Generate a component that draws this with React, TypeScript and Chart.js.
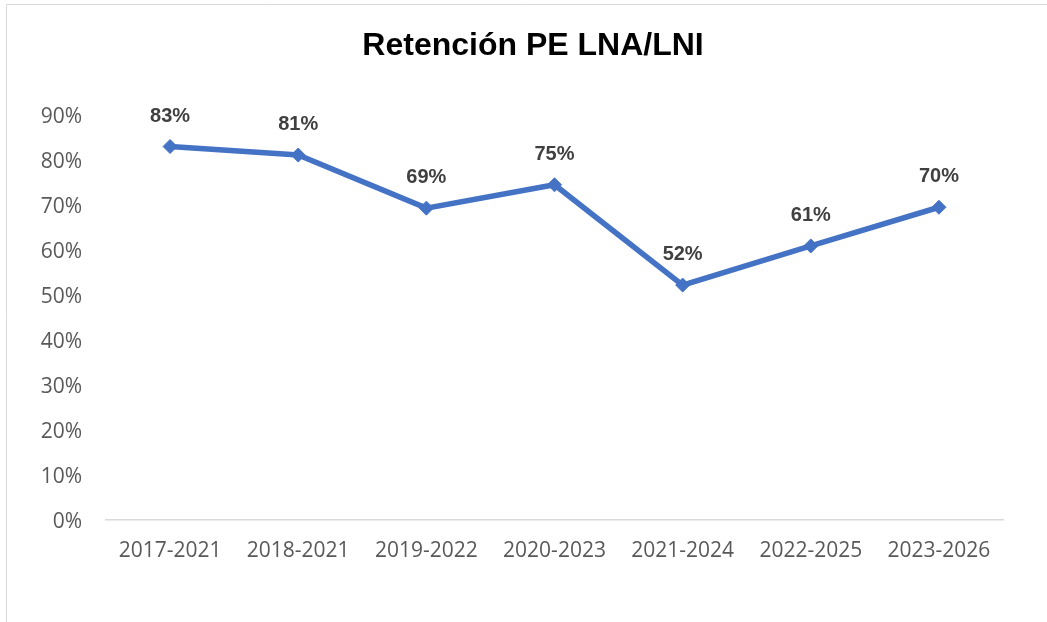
import React, { useEffect, useRef } from "react";
import { Chart, registerables } from "chart.js";

Chart.register(...registerables);

const TITLE = "Retención PE LNA/LNI";
const categories = ["2017-2021", "2018-2021", "2019-2022", "2020-2023", "2021-2024", "2022-2025", "2023-2026"];
const retention = [0.83, 0.811, 0.693, 0.745, 0.522, 0.609, 0.695];
const dataLabels = ["83%", "81%", "69%", "75%", "52%", "61%", "70%"];

const framePlugin = {
  id: "frame",
  beforeDraw(chart: any) {
    const ctx = chart.ctx;
    ctx.save();
    ctx.fillStyle = "#ffffff";
    ctx.fillRect(0, 0, chart.width, chart.height);
    ctx.strokeStyle = "#d9d9d9";
    ctx.lineWidth = 1;
    ctx.beginPath();
    ctx.moveTo(6.5, chart.height);
    ctx.lineTo(6.5, 4.5);
    ctx.lineTo(chart.width, 4.5);
    ctx.stroke();
    ctx.restore();
  },
};

const titlePlugin = {
  id: "customTitle",
  afterDraw(chart: any) {
    const ctx = chart.ctx;
    ctx.save();
    ctx.font = "bold 32px 'Liberation Sans', Arial, sans-serif";
    ctx.fillStyle = "#000000";
    ctx.textAlign = "center";
    ctx.textBaseline = "alphabetic";
    ctx.fillText(TITLE, 533, 55);
    ctx.restore();
  },
};

const labelPlugin = {
  id: "pointLabels",
  afterDatasetsDraw(chart: any) {
    const ctx = chart.ctx;
    const meta = chart.getDatasetMeta(0);
    ctx.save();
    ctx.font = "bold 20px 'Liberation Sans', Arial, sans-serif";
    ctx.fillStyle = "#404040";
    ctx.textAlign = "center";
    ctx.textBaseline = "alphabetic";
    meta.data.forEach((pt: any, i: number) => {
      ctx.fillText(dataLabels[i], pt.x, pt.y - 25);
    });
    ctx.restore();
  },
};

export default function App() {
  const ref = useRef<HTMLCanvasElement | null>(null);
  useEffect(() => {
    document.body.style.margin = "0";
    document.body.style.overflow = "hidden";
    const chart = new Chart(ref.current as HTMLCanvasElement, {
      type: "line",
      data: {
        labels: categories,
        datasets: [
          {
            data: retention,
            borderColor: "#4472C4",
            backgroundColor: "#4472C4",
            borderWidth: 5.5,
            pointStyle: "rectRot",
            pointRadius: 7,
            pointBorderWidth: 1,
            pointBackgroundColor: "#4472C4",
            pointBorderColor: "#4472C4",
            tension: 0,
          },
        ],
      },
      options: {
        animation: false,
        responsive: false,
        maintainAspectRatio: false,
        layout: { padding: { left: 0, right: 44, top: 115, bottom: 0 } },
        plugins: { legend: { display: false }, title: { display: false }, tooltip: { enabled: false } },
        scales: {
          x: {
            offset: true,
            grid: { display: false, drawTicks: false },
            border: { display: true, color: "#d9d9d9", width: 1.5 },
            ticks: {
              color: "#595959",
              font: { family: "'Open Sans', sans-serif", size: 21 },
              padding: 18,
              maxRotation: 0,
              autoSkip: false,
            },
            afterFit(scale: any) {
              scale.height = 102;
            },
          },
          y: {
            min: 0,
            max: 0.9,
            grid: { display: false, drawTicks: false },
            border: { display: false },
            ticks: {
              stepSize: 0.1,
              color: "#595959",
              font: { family: "'Open Sans', sans-serif", size: 21 },
              padding: 24,
              labelOffset: 2,
              callback: (v: any) => Math.round(Number(v) * 100) + "%",
            },
            afterFit(scale: any) {
              scale.width = 106;
            },
          },
        },
      },
      plugins: [framePlugin, titlePlugin, labelPlugin],
    });
    return () => chart.destroy();
  }, []);
  return (
    <div style={{ position: "fixed", left: 0, top: 0, width: 1047, height: 622 }}>
      <canvas ref={ref} width={1047} height={622} style={{ width: 1047, height: 622 }} />
    </div>
  );
}
